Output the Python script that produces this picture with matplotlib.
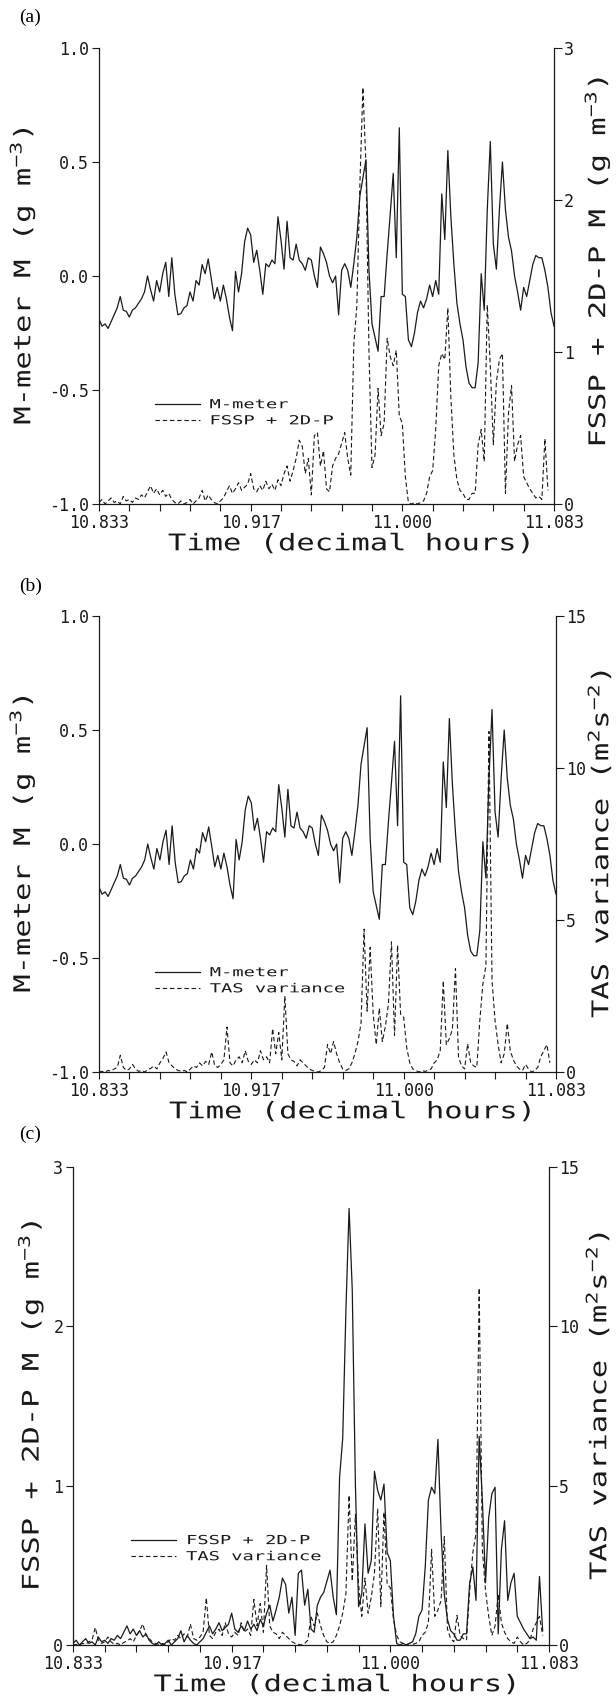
import numpy as np
import matplotlib as mpl
from matplotlib import pyplot as plt
from matplotlib.ticker import FixedLocator, FormatStrFormatter
from matplotlib.patheffects import AbstractPathEffect
from matplotlib.transforms import Affine2D

# 绘图字体：等宽字体模拟绘图仪字体
plt.rcParams['font.family'] = ['DejaVu Sans Mono', 'DejaVu Sans']
plt.rcParams['axes.unicode_minus'] = False
plt.rcParams['mathtext.fontset'] = 'custom'
plt.rcParams['mathtext.rm'] = 'DejaVu Sans Mono'
plt.rcParams['mathtext.it'] = 'DejaVu Sans Mono'
plt.rcParams['mathtext.default'] = 'rm'

# 时间轴：10:50 起，每 6 秒一个读数
start_h = 10 + 50 / 60
step_s = 6

# M-meter LWC (g m-3)
m_meter = [
    -0.19, -0.22, -0.21, -0.23, -0.20, -0.17, -0.14, -0.09, -0.15, -0.155,
    -0.18, -0.15, -0.14, -0.12, -0.10, -0.07, 0.00, -0.06, -0.11, -0.02,
    -0.07, 0.01, 0.06, -0.09, 0.08, -0.08, -0.17, -0.165, -0.14, -0.13,
    -0.07, -0.11, -0.02, -0.04, 0.05, 0.01, 0.075, -0.01, -0.10, -0.05,
    -0.11, -0.04, -0.10, -0.18, -0.24, 0.02, -0.07, 0.01, 0.15, 0.21,
    0.18, 0.06, 0.113, 0.025, -0.08, 0.054, 0.04, 0.07, 0.054, 0.26,
    0.157, 0.03, 0.24, 0.08, 0.07, 0.14, 0.07, 0.054, 0.025, 0.08,
    0.07, 0.0, -0.05, 0.127, 0.098, 0.06, 0.0, -0.03, 0.0, -0.17,
    0.025, 0.054, 0.025, -0.05, 0.054, 0.17, 0.35, 0.43, 0.51, 0.025,
    -0.21, -0.27, -0.33, -0.09, -0.09, 0.098, 0.27, 0.45, 0.08, 0.65,
    -0.08, -0.09, -0.28, -0.31, -0.25, -0.16, -0.11, -0.14, -0.10, -0.04,
    -0.09, -0.02, -0.08, 0.36, 0.16, 0.55, 0.26, 0.05, -0.12, -0.21,
    -0.28, -0.40, -0.47, -0.49, -0.49, -0.38, 0.01, -0.15, 0.29, 0.59,
    0.14, 0.03, 0.29, 0.50, 0.29, 0.17, 0.11, 0.0, -0.07, -0.15,
    -0.05, -0.09, -0.02, 0.05, 0.09, 0.08, 0.08, 0.025, -0.05, -0.16, -0.22,
]

# FSSP + 2D-P LWC (g m-3)
fssp_2dp = [
    0.01, 0.03, 0.0, 0.02, 0.04, 0.01, 0.02, 0.0, 0.05, 0.02,
    0.03, 0.01, 0.04, 0.03, 0.06, 0.04, 0.08, 0.12, 0.07, 0.10,
    0.06, 0.09, 0.05, 0.07, 0.03, 0.01, 0.0, 0.02, 0.0, 0.01,
    0.03, 0.0, 0.02, 0.04, 0.09, 0.02, 0.06, 0.03, 0.01, 0.0,
    0.02, 0.04, 0.08, 0.12, 0.07, 0.10, 0.14, 0.09, 0.11, 0.13,
    0.20, 0.10, 0.08, 0.12, 0.09, 0.15, 0.10, 0.13, 0.09, 0.16,
    0.12, 0.20, 0.25, 0.15, 0.22, 0.30, 0.42, 0.38, 0.20, 0.30,
    0.06, 0.45, 0.47, 0.25, 0.35, 0.10, 0.08, 0.25, 0.30, 0.33,
    0.40, 0.47, 0.30, 0.19, 1.05, 1.30, 2.10, 2.74, 2.23, 1.00,
    0.24, 0.32, 0.76, 0.45, 0.53, 1.09, 0.97, 0.91, 1.01, 0.58,
    0.53, 0.18, 0.01, 0.0, 0.01, 0.0, 0.01, 0.02, 0.07, 0.18,
    0.22, 0.49, 0.91, 0.99, 0.95, 1.29, 0.70, 0.32, 0.16, 0.09,
    0.07, 0.03, 0.03, 0.07, 0.07, 0.39, 0.49, 0.28, 1.31, 0.91,
    0.39, 0.80, 0.95, 0.99, 0.07, 0.60, 0.78, 0.28, 0.39, 0.45,
    0.18, 0.14, 0.10, 0.07, 0.04, 0.05, 0.03, 0.43, 0.09,
]

# TAS variance (m2 s-2)
tas_var = [
    0.0, 0.02, 0.0, 0.05, 0.03, 0.10, 0.15, 0.55, 0.15, 0.05,
    0.10, 0.25, 0.10, 0.02, 0.05, 0.0, 0.08, 0.12, 0.20, 0.10,
    0.30, 0.45, 0.66, 0.30, 0.20, 0.10, 0.05, 0.02, 0.05, 0.0,
    0.10, 0.20, 0.15, 0.30, 0.20, 0.35, 0.25, 0.66, 0.20, 0.15,
    0.25, 0.40, 1.48, 0.30, 0.20, 0.40, 0.50, 0.30, 0.70, 0.35,
    0.25, 0.40, 0.30, 0.70, 0.40, 0.50, 0.30, 1.43, 0.60, 1.30,
    0.40, 2.50, 0.60, 0.40, 0.35, 0.20, 0.40, 0.30, 0.20, 0.10,
    0.05, 0.02, 0.0, 0.05, 0.15, 0.90, 0.60, 1.00, 0.60, 0.30,
    0.10, 0.05, 0.10, 0.30, 0.60, 1.00, 1.60, 4.70, 2.00, 4.10,
    1.90, 0.90, 2.10, 1.00, 1.50, 2.25, 4.28, 1.20, 4.17, 1.90,
    1.80, 0.80, 0.30, 0.10, 0.05, 0.0, 0.05, 0.02, 0.05, 0.10,
    0.30, 0.40, 0.70, 3.00, 0.90, 1.10, 1.40, 3.40, 0.50, 0.20,
    0.10, 0.93, 0.30, 0.20, 0.15, 1.70, 2.90, 3.50, 11.2, 3.00,
    1.70, 0.90, 0.30, 0.60, 1.60, 0.70, 0.40, 0.20, 0.10, 0.05,
    0.25, 0.10, 0.0, 0.05, 0.15, 0.50, 0.70, 0.90, 0.30,
]

t_m = start_h + np.arange(len(m_meter)) * step_s / 3600
t_f = start_h + np.arange(len(fssp_2dp)) * step_s / 3600
t_v = start_h + np.arange(len(tas_var)) * step_s / 3600

ink = '#1a1a1a'
lw = 0.9
dash = (0, (4, 2.5))
lab_fs = 16.5
tick_fs = 12
leg_fs = 9


class Stretch(AbstractPathEffect):
    '''横向拉宽文字，模拟绘图仪字体的宽字距'''
    def __init__(self, sx, about='center'):
        super().__init__()
        self.sx = sx
        self.about = about

    def draw_path(self, renderer, gc, tpath, affine, rgbFace=None):
        xs = tpath.vertices[:, 0]
        cx = xs.min() if self.about == 'left' else 0.5 * (xs.min() + xs.max())
        aff = Affine2D().translate(-cx, 0).scale(self.sx, 1).translate(cx, 0) + affine
        renderer.draw_path(gc, tpath, aff, rgbFace)


wide = [Stretch(1.33)]


def setup(ax_l, ax_r, ylim_l, yticks_l, fmt_l, ylim_r, yticks_r, ylab_l, ylab_r,
          xl, xr, yr, xlab_y):
    x_end = start_h + 15 / 60
    ax_l.set_xlim(start_h, x_end)
    ax_l.xaxis.set_major_locator(FixedLocator(start_h + np.arange(0, 16, 5) / 60))
    ax_l.xaxis.set_minor_locator(FixedLocator(start_h + np.arange(16) / 60))
    ax_l.xaxis.set_major_formatter(FormatStrFormatter('%.3f'))
    ax_l.set_ylim(*ylim_l)
    ax_l.set_yticks(yticks_l)
    ax_l.yaxis.set_major_formatter(FormatStrFormatter(fmt_l))
    ax_r.set_ylim(*ylim_r)
    ax_r.set_yticks(yticks_r)
    ax_r.yaxis.set_major_formatter(FormatStrFormatter('%d'))
    for a in (ax_l, ax_r):
        a.spines['top'].set_visible(False)
        for s in a.spines.values():
            s.set_linewidth(0.9)
            s.set_color(ink)
    ax_l.spines['right'].set_visible(False)
    ax_r.spines['left'].set_visible(False)
    ax_r.spines['bottom'].set_visible(False)
    ax_l.tick_params(axis='both', which='both', direction='out', length=5, width=0.8,
                     colors=ink, labelsize=tick_fs, pad=2)
    ax_r.tick_params(axis='y', direction='out', length=6, width=0.8, colors=ink,
                     labelsize=tick_fs, pad=1)
    ax_l.set_xlabel('Time (decimal hours)', fontsize=lab_fs, color=ink, path_effects=wide)
    ax_l.set_ylabel(ylab_l, fontsize=lab_fs, color=ink, path_effects=wide)
    ax_r.set_ylabel(ylab_r, fontsize=lab_fs, color=ink, path_effects=wide)
    ax_l.xaxis.set_label_coords(0.552, xlab_y)
    ax_l.yaxis.set_label_coords(xl, 0.5)
    ax_r.yaxis.set_label_coords(xr, yr)


def add_legend(ax_l, handles, labels):
    leg = ax_l.legend(handles, labels, loc='upper left', bbox_to_anchor=(0.122, 0.232),
                      frameon=False, fontsize=leg_fs, handlelength=3.6, handletextpad=0.8,
                      labelspacing=0.25, borderpad=0, borderaxespad=0, labelcolor=ink)
    for txt in leg.get_texts():
        txt.set_path_effects([Stretch(1.5, about='left')])


fig = plt.figure(figsize=(6.16, 17.01), dpi=100)

# (a) M-meter 与 FSSP + 2D-P
ax1 = fig.add_axes([99 / 616, 1 - 504 / 1701, 455 / 616, 456 / 1701])
ax1r = ax1.twinx()
l1, = ax1.plot(t_m, m_meter, color=ink, lw=lw)
l2, = ax1r.plot(t_f, fssp_2dp, color=ink, lw=0.8, linestyle=dash)
setup(ax1, ax1r, (-1, 1), [-1, -0.5, 0, 0.5, 1], '%.1f', (0, 3), [0, 1, 2, 3],
      'M-meter M (g m$^{-3}$)', 'FSSP + 2D-P M (g m$^{-3}$)', -0.135, 1.062, 0.53, -0.062)
add_legend(ax1, [l1, l2], ['M-meter', 'FSSP + 2D-P'])

# (b) M-meter 与 TAS variance
ax2 = fig.add_axes([99 / 616, 1 - 1072 / 1701, 457 / 616, 456 / 1701])
ax2r = ax2.twinx()
l3, = ax2.plot(t_m, m_meter, color=ink, lw=lw)
l4, = ax2r.plot(t_v, tas_var, color=ink, lw=0.8, linestyle=dash)
setup(ax2, ax2r, (-1, 1), [-1, -0.5, 0, 0.5, 1], '%.1f', (0, 15), [0, 5, 10, 15],
      'M-meter M (g m$^{-3}$)', 'TAS variance (m$^2$s$^{-2}$)', -0.135, 1.066, 0.5, -0.062)
add_legend(ax2, [l3, l4], ['M-meter', 'TAS variance'])

# (c) FSSP + 2D-P 与 TAS variance
ax3 = fig.add_axes([73 / 616, 1 - 1645 / 1701, 476 / 616, 478 / 1701])
ax3r = ax3.twinx()
l5, = ax3.plot(t_f, fssp_2dp, color=ink, lw=lw)
l6, = ax3r.plot(t_v, tas_var, color=ink, lw=0.8, linestyle=dash)
setup(ax3, ax3r, (0, 3), [0, 1, 2, 3], '%d', (0, 15), [0, 5, 10, 15],
      'FSSP + 2D-P M (g m$^{-3}$)', 'TAS variance (m$^2$s$^{-2}$)', -0.057, 1.074, 0.5, -0.059)
add_legend(ax3, [l5, l6], ['FSSP + 2D-P', 'TAS variance'])

# 分图标号
for lab, y in [('(a)', 9), ('(b)', 578), ('(c)', 1126)]:
    fig.text(19 / 616, 1 - y / 1701, lab, family='Liberation Serif', fontsize=14,
             va='top', ha='left', color='black')

plt.savefig('out.png', dpi=100)
